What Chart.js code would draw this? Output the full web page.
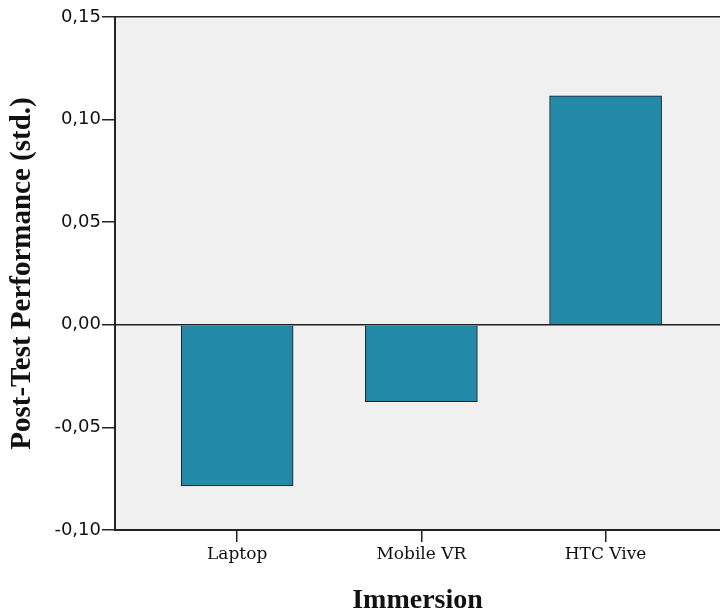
<!DOCTYPE html>
<html>
<head>
<meta charset="utf-8">
<script src="https://cdn.jsdelivr.net/npm/chart.js@4"></script>
<style>
  body { margin: 0; background: #fff; }
</style>
</head>
<body>
<canvas id="canvas" width="720" height="611"></canvas>
<script>
const categories = ['Laptop', 'Mobile VR', 'HTC Vive'];
const performance = [-0.0785, -0.0375, 0.1116];
const yTicks = [-0.10, -0.05, 0.00, 0.05, 0.10, 0.15];

// grey plot background
const plotBg = {
    id: 'plotBg',
    beforeDraw(chart) {
        const { ctx, chartArea: a } = chart;
        ctx.save();
        ctx.fillStyle = '#f0f0f0';
        ctx.fillRect(a.left, a.top, a.right - a.left, a.bottom - a.top);
        ctx.restore();
    }
};

const isLine = (v) => Math.abs(v) < 1e-9 || Math.abs(v - 0.15) < 1e-9;

const ctx = document.getElementById('canvas').getContext('2d');
new Chart(ctx, {
    type: 'bar',
    data: {
        datasets: [{
            data: categories.map((c, i) => ({ x: i, y: performance[i] })),
            backgroundColor: '#2389a9',
            borderColor: '#1b1b1b',
            borderWidth: 1,
            barThickness: 112
        }]
    },
    options: {
        responsive: false,
        animation: false,
        layout: { padding: { top: 17, right: 0, left: 0, bottom: 0 } },
        plugins: { legend: { display: false }, tooltip: { enabled: false } },
        scales: {
            x: {
                type: 'linear',
                offset: false,
                min: -0.663,
                max: 2.621,
                afterBuildTicks: (s) => { s.ticks = categories.map((c, i) => ({ value: i })); },
                afterFit: (s) => { s.height = 81; },
                ticks: {
                    callback: (v) => categories[v],
                    color: '#111',
                    font: { family: 'DejaVu Serif', size: 17 },
                    padding: 2,
                    maxRotation: 0,
                    autoSkip: false
                },
                grid: { offset: false, drawOnChartArea: false, tickLength: 12, color: '#222', lineWidth: 1.5 },
                border: { display: true, color: '#222', width: 2 },
                title: {
                    display: true,
                    text: 'Immersion',
                    color: '#111',
                    font: { family: 'Liberation Serif', size: 28, weight: 'bold', lineHeight: 0.7 },
                    padding: { top: 0, bottom: 0 }
                }
            },
            y: {
                min: -0.10,
                max: 0.15,
                afterBuildTicks: (s) => { s.ticks = yTicks.map(v => ({ value: v })); },
                afterFit: (s) => { s.width = 115; },
                ticks: {
                    callback: (v) => v.toFixed(2).replace('.', ','),
                    color: '#111',
                    font: { family: 'DejaVu Sans', size: 18 },
                    padding: 1
                },
                grid: {
                    drawOnChartArea: true,
                    tickLength: 13,
                    color: (c) => (c.tick && isLine(c.tick.value)) ? '#222' : 'rgba(0,0,0,0)',
                    tickColor: '#222',
                    lineWidth: 1.5
                },
                border: { display: true, color: '#222', width: 2 },
                title: {
                    display: true,
                    text: 'Post-Test Performance (std.)',
                    color: '#111',
                    font: { family: 'Liberation Serif', size: 29, weight: 'bold' },
                    padding: { top: 5, bottom: 0 }
                }
            }
        }
    },
    plugins: [plotBg]
});
</script>
</body>
</html>
